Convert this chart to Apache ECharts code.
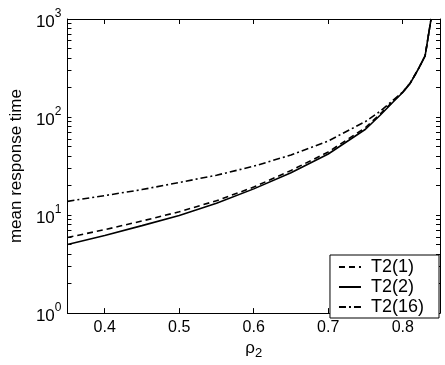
<!DOCTYPE html>
<html><head><meta charset="utf-8">
<script src="https://cdn.jsdelivr.net/npm/echarts@6/dist/echarts.min.js"></script>
<style>html,body{margin:0;padding:0;background:#fff}#c{width:445px;height:365px}</style>
</head><body><div id="c"></div>
<script>
var rho = [0.35,0.40,0.45,0.50,0.55,0.60,0.65,0.70,0.75,0.77,0.79,0.80,0.81,0.82,0.83,0.838];
var t2_1 = [5.9,7.1,8.7,10.8,14.0,19.3,28.5,44,78,108,152,180,222,300,420,1000];
var t2_2 = [5.0,6.2,7.8,9.9,13.2,18.5,27,42,75,105,150,178,220,300,420,1000];
var t2_16 = [13.8,15.8,18.2,21.5,25.5,31.5,41,57,90,115,155,180,222,300,420,1000];
var xTicks = [0.4,0.5,0.6,0.7,0.8];
var yMajor = [1,10,100,1000];
var yMinor = [2,3,4,5,6,7,8,9,20,30,40,50,60,70,80,90,200,300,400,500,600,700,800,900];
var names = ['T2(1)','T2(2)','T2(16)'];

function pairs(ys){return rho.map(function(x,i){return [x,ys[i]];});}
var font = 'Liberation Sans, Arial, Helvetica, sans-serif';
var chart = echarts.init(document.getElementById('c'));
chart.setOption({
  animation:false,
  grid:{left:55,right:5,top:19,bottom:43},
  xAxis:[{type:'value',min:0.35,max:0.85,position:'bottom',
    name:'{r|ρ}{s|2}',nameLocation:'middle',nameGap:22,
    nameTextStyle:{color:'#000',fontFamily:font,fontSize:17,
      rich:{r:{color:'#000',fontFamily:font,fontSize:17},s:{color:'#000',fontFamily:font,fontSize:13,padding:[10,0,0,0]}}},
    axisLine:{lineStyle:{color:'#000',width:1}},
    axisTick:{inside:true,length:5,customValues:xTicks,lineStyle:{color:'#000'}},
    axisLabel:{customValues:xTicks,color:'#000',fontFamily:font,fontSize:16,margin:6,formatter:function(v){return v.toFixed(1);}},
    splitLine:{show:false}},
   {type:'value',min:0.35,max:0.85,position:'top',
    axisLine:{show:true,onZero:false,lineStyle:{color:'#000',width:1}},
    axisTick:{inside:true,length:5,customValues:xTicks,lineStyle:{color:'#000'}},
    axisLabel:{show:false},splitLine:{show:false}}],
  yAxis:[{type:'log',logBase:10,min:1,max:1000,position:'left',
    name:'mean response time',nameLocation:'middle',nameGap:39,nameRotate:90,
    nameTextStyle:{color:'#000',fontFamily:font,fontSize:17},
    axisLine:{show:true,lineStyle:{color:'#000',width:1}},
    axisTick:{inside:true,length:4,customValues:yMajor.concat(yMinor),lineStyle:{color:'#000'}},
    axisLabel:{customValues:yMajor,margin:6,formatter:function(v){var e=Math.round(Math.log10(v));return '{b|10}{s|'+e+'}';},
      rich:{b:{color:'#000',fontFamily:font,fontSize:17,padding:[6,0,0,0]},s:{color:'#000',fontFamily:font,fontSize:12,verticalAlign:'top',padding:[0,0,8,0]}}},
    splitLine:{show:false}},
   {type:'log',logBase:10,min:1,max:1000,position:'right',
    axisLine:{show:true,lineStyle:{color:'#000',width:1}},
    axisTick:{inside:true,length:4,customValues:yMajor.concat(yMinor),lineStyle:{color:'#000'}},
    axisLabel:{show:false},splitLine:{show:false}}],
  legend:{right:6,bottom:47,orient:'vertical',itemWidth:22,itemHeight:12,itemGap:2,
    backgroundColor:'#fff',borderColor:'#000',borderWidth:1,borderRadius:0,padding:[3,15,2,8],
    itemStyle:{opacity:0},
    formatter:function(n){return ' '+n;},
    textStyle:{color:'#000',fontFamily:font,fontSize:18},
    data:names},
  series:[
    {name:names[0],type:'line',data:pairs(t2_1),showSymbol:false,symbol:'none',
      lineStyle:{color:'#000',width:1.6,type:[6,4]},itemStyle:{color:'#000'}},
    {name:names[1],type:'line',data:pairs(t2_2),showSymbol:false,symbol:'none',
      lineStyle:{color:'#000',width:1.6,type:'solid'},itemStyle:{color:'#000'}},
    {name:names[2],type:'line',data:pairs(t2_16),showSymbol:false,symbol:'none',
      lineStyle:{color:'#000',width:1.6,type:[7,3,2,3]},itemStyle:{color:'#000'}}
  ]
});
</script></body></html>
